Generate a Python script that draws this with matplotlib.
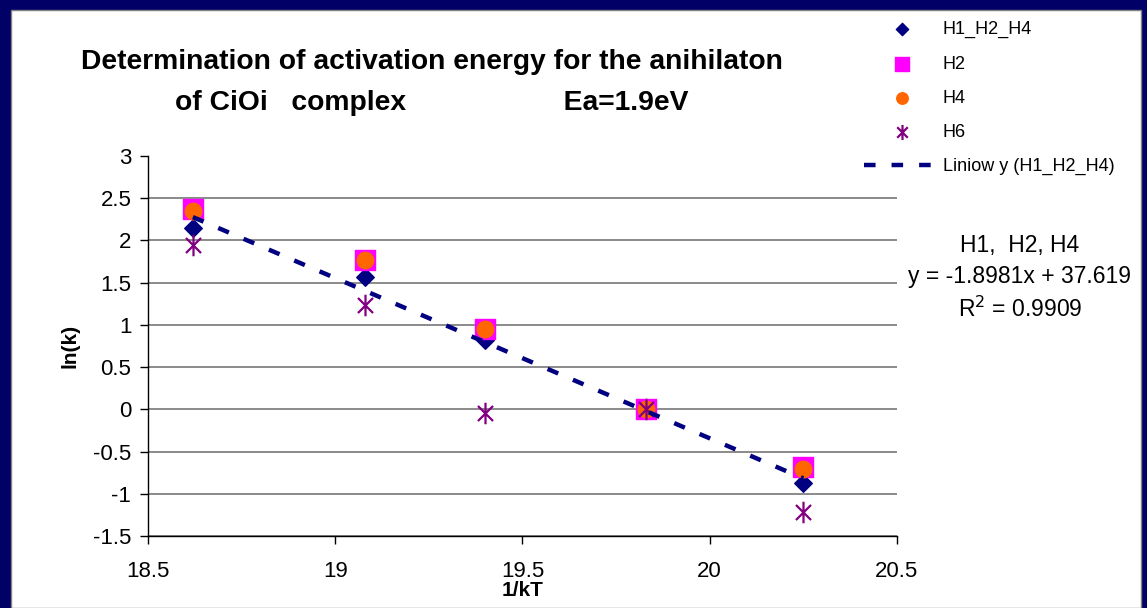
import matplotlib.pyplot as plt
from matplotlib.patches import Rectangle
from matplotlib.path import Path

plt.rcParams['font.family'] = ['Liberation Sans', 'DejaVu Sans']

# 1/kT values and ln(k) for each sample set
inv_kt = [18.62, 19.08, 19.40, 19.83, 20.25]
h1_h2_h4 = [2.15, 1.57, 0.82, 0.0, -0.87]
h2 = [2.37, 1.77, 0.95, 0.01, -0.68]
h4 = [2.35, 1.77, 0.95, 0.0, -0.71]
h6 = [1.95, 1.24, -0.04, 0.0, -1.22]

# linear fit of the combined set
slope = -1.8981
intercept = 37.619
r_squared = 0.9909

x_ticks = [18.5, 19, 19.5, 20, 20.5]
y_ticks = [-1.5, -1, -0.5, 0, 0.5, 1, 1.5, 2, 2.5, 3]

# Excel-style star: an X crossed by a vertical bar
star = Path([(-0.7, -0.7), (0.7, 0.7), (-0.7, 0.7), (0.7, -0.7), (0, -1), (0, 1)],
            [Path.MOVETO, Path.LINETO, Path.MOVETO, Path.LINETO, Path.MOVETO, Path.LINETO])

fig = plt.figure(figsize=(11.47, 6.08), dpi=100)
fig.patch.set_facecolor('#000066')
# white slide panel
fig.patches.append(Rectangle((11 / 1147, 0), 1130 / 1147, 598 / 608,
                             transform=fig.transFigure, facecolor='white',
                             edgecolor='#808080', linewidth=1, zorder=-5))

ax = fig.add_axes([0.1290, 0.1184, 0.6530, 0.6250])
ax.set_facecolor('white')

ax.scatter(inv_kt, h1_h2_h4, marker='D', s=80, color='#000080', label='H1_H2_H4', zorder=3)
ax.scatter(inv_kt, h2, marker='s', s=190, color='#FF00FF', label='H2', zorder=4)
ax.scatter(inv_kt, h4, marker='o', s=140, color='#FF6600', label='H4', zorder=5)
ax.scatter(inv_kt, h6, marker=star, s=240, color='#800080', linewidths=1.6,
           label='H6', zorder=6)

fit_x = [inv_kt[0], inv_kt[-1]]
fit_y = [slope * v + intercept for v in fit_x]
ax.plot(fit_x, fit_y, color='#000080', linewidth=3.2, dashes=(2.6, 3.6),
        label='Liniow y (H1_H2_H4)', zorder=7)

ax.set_xlim(18.5, 20.5)
ax.set_ylim(-1.5, 3)
ax.set_xticks(x_ticks)
ax.set_xticklabels([f'{v:g}' for v in x_ticks])
ax.set_yticks(y_ticks)
ax.set_yticklabels([f'{v:g}' for v in y_ticks])
ax.tick_params(labelsize=16, length=6, width=1, direction='out', color='black')
ax.tick_params(axis='x', pad=12)
ax.tick_params(axis='y', pad=6)
ax.grid(axis='y', color='#777777', linewidth=1.2)
ax.yaxis.get_gridlines()[-1].set_visible(False)
ax.set_axisbelow(True)
for side in ['top', 'right']:
    ax.spines[side].set_visible(False)
ax.spines['left'].set_linewidth(1)
ax.spines['bottom'].set_linewidth(1)

ax.set_xlabel('1/kT', fontsize=15, fontweight='bold', labelpad=-1)
ax.set_ylabel('ln(k)', fontsize=15, fontweight='bold', labelpad=10)

fig.text(432 / 1147, 1 - 62 / 608, 'Determination of activation energy for the anihilaton',
         ha='center', va='center', fontsize=20.3, fontweight='bold')
fig.text(432 / 1147, 1 - 103 / 608,
         'of CiOi   complex                    Ea=1.9eV',
         ha='center', va='center', fontsize=20.3, fontweight='bold')

fig.text(1020 / 1147, 1 - 278 / 608,
         f'H1,  H2, H4\ny = {slope}x + {intercept}\nR$^2$ = {r_squared}',
         ha='center', va='center', fontsize=16.5, linespacing=1.45)

fig.legend(loc='upper left', bbox_to_anchor=(857 / 1147, 1 - 14 / 608),
           frameon=False, fontsize=13, handlelength=4.2, handletextpad=0.15,
           labelspacing=0.95, borderaxespad=0, scatterpoints=1,
           markerscale=0.7)

fig.savefig('out.png', dpi=100, facecolor=fig.get_facecolor())
